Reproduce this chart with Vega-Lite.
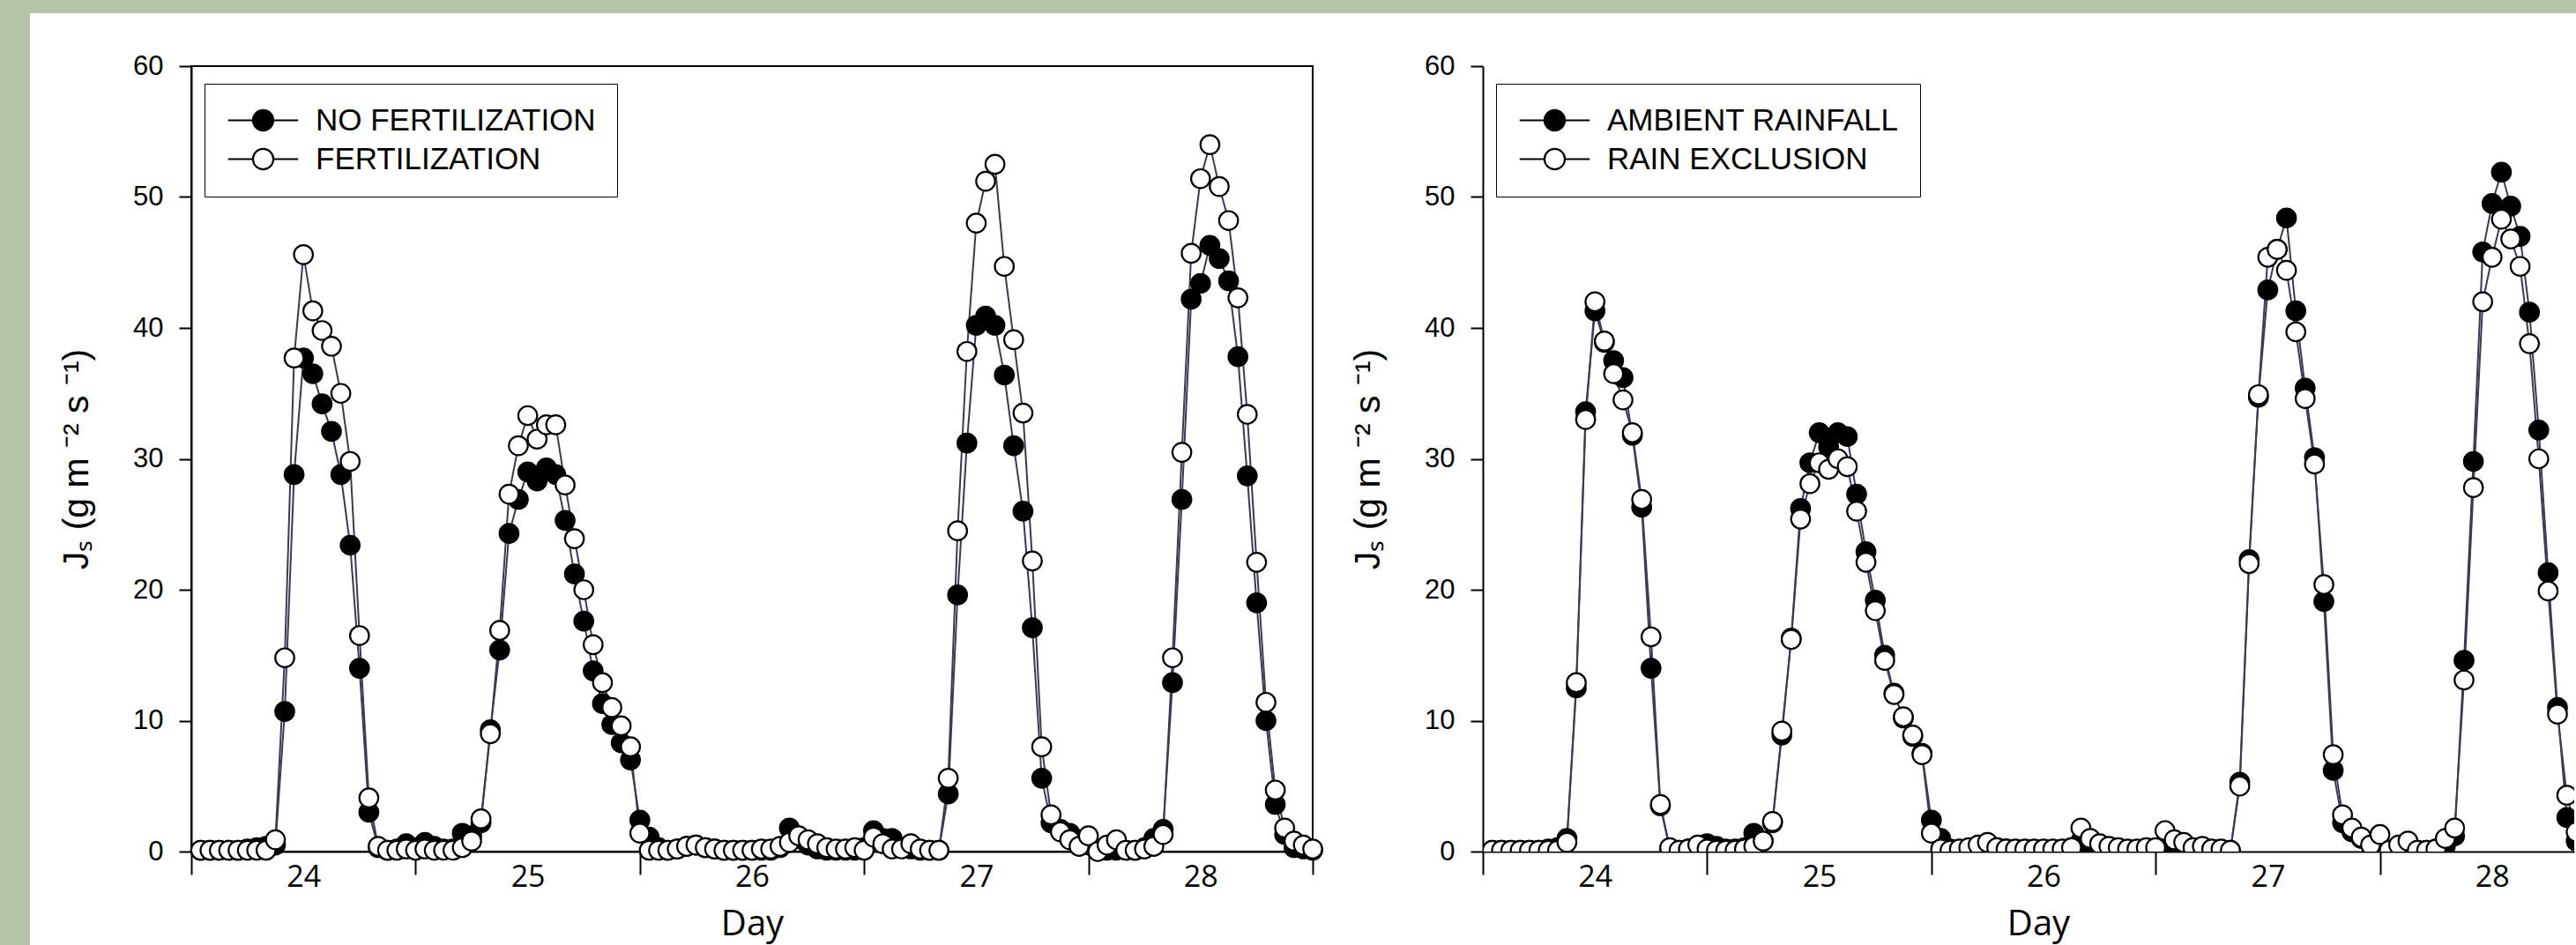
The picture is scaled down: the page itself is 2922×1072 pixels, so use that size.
{
  "$schema": "https://vega.github.io/schema/vega-lite/v6.json",
  "background": "white",
  "padding": 0,
  "bounds": "flush",
  "spacing": 0,
  "config": {
    "view": {"stroke": null},
    "font": "Liberation Sans",
    "axis": {"grid": false, "domainColor": "black", "tickColor": "black", "labelColor": "black", "titleColor": "black"}
  },
  "datasets": {
    "left": [
      {"t":23.5417,"a":0.1,"b":0.1},{"t":23.5833,"a":0.1,"b":0.1},{"t":23.625,"a":0.1,"b":0.1},{"t":23.6667,"a":0.1,"b":0.1},
      {"t":23.7083,"a":0.1,"b":0.1},{"t":23.75,"a":0.2,"b":0.1},{"t":23.7917,"a":0.3,"b":0.1},{"t":23.8333,"a":0.4,"b":0.1},
      {"t":23.875,"a":0.5,"b":0.9},{"t":23.9167,"a":10.7,"b":14.8},{"t":23.9583,"a":28.8,"b":37.7},{"t":24,"a":37.7,"b":45.6},
      {"t":24.0417,"a":36.5,"b":41.3},{"t":24.0833,"a":34.2,"b":39.8},{"t":24.125,"a":32.1,"b":38.6},{"t":24.1667,"a":28.8,"b":35.0},
      {"t":24.2083,"a":23.4,"b":29.8},{"t":24.25,"a":14.0,"b":16.5},{"t":24.2917,"a":3.0,"b":4.1},{"t":24.3333,"a":0.3,"b":0.4},
      {"t":24.375,"a":0.1,"b":0.1},{"t":24.4167,"a":0.2,"b":0.1},{"t":24.4583,"a":0.6,"b":0.2},{"t":24.5,"a":0.3,"b":0.1},
      {"t":24.5417,"a":0.7,"b":0.2},{"t":24.5833,"a":0.4,"b":0.1},{"t":24.625,"a":0.2,"b":0.1},{"t":24.6667,"a":0.2,"b":0.1},
      {"t":24.7083,"a":1.4,"b":0.3},{"t":24.75,"a":1.2,"b":0.8},{"t":24.7917,"a":2.2,"b":2.5},{"t":24.8333,"a":9.3,"b":9.0},
      {"t":24.875,"a":15.4,"b":16.9},{"t":24.9167,"a":24.3,"b":27.3},{"t":24.9583,"a":26.9,"b":31.0},{"t":25,"a":29.0,"b":33.3},
      {"t":25.0417,"a":28.3,"b":31.5},{"t":25.0833,"a":29.3,"b":32.6},{"t":25.125,"a":28.8,"b":32.6},{"t":25.1667,"a":25.3,"b":28.0},
      {"t":25.2083,"a":21.2,"b":23.9},{"t":25.25,"a":17.6,"b":20.0},{"t":25.2917,"a":13.8,"b":15.8},{"t":25.3333,"a":11.3,"b":12.9},
      {"t":25.375,"a":9.7,"b":11.0},{"t":25.4167,"a":8.3,"b":9.6},{"t":25.4583,"a":7.0,"b":8.0},{"t":25.5,"a":2.4,"b":1.4},
      {"t":25.5417,"a":1.1,"b":0.1},{"t":25.5833,"a":0.3,"b":0.1},{"t":25.625,"a":0.1,"b":0.1},{"t":25.6667,"a":0.2,"b":0.2},
      {"t":25.7083,"a":0.4,"b":0.4},{"t":25.75,"a":0.5,"b":0.5},{"t":25.7917,"a":0.3,"b":0.3},{"t":25.8333,"a":0.2,"b":0.2},
      {"t":25.875,"a":0.1,"b":0.1},{"t":25.9167,"a":0.1,"b":0.1},{"t":25.9583,"a":0.1,"b":0.1},{"t":26,"a":0.1,"b":0.1},
      {"t":26.0417,"a":0.1,"b":0.2},{"t":26.0833,"a":0.1,"b":0.2},{"t":26.125,"a":0.3,"b":0.4},{"t":26.1667,"a":1.8,"b":0.7},
      {"t":26.2083,"a":1.0,"b":1.2},{"t":26.25,"a":0.5,"b":0.9},{"t":26.2917,"a":0.2,"b":0.6},{"t":26.3333,"a":0.1,"b":0.3},
      {"t":26.375,"a":0.1,"b":0.2},{"t":26.4167,"a":0.1,"b":0.2},{"t":26.4583,"a":0.1,"b":0.3},{"t":26.5,"a":0.3,"b":0.1},
      {"t":26.5417,"a":1.6,"b":1.1},{"t":26.5833,"a":1.0,"b":0.6},{"t":26.625,"a":1.0,"b":0.2},{"t":26.6667,"a":0.3,"b":0.2},
      {"t":26.7083,"a":0.2,"b":0.6},{"t":26.75,"a":0.1,"b":0.2},{"t":26.7917,"a":0.1,"b":0.1},{"t":26.8333,"a":0.1,"b":0.1},
      {"t":26.875,"a":4.4,"b":5.6},{"t":26.9167,"a":19.6,"b":24.5},{"t":26.9583,"a":31.2,"b":38.2},{"t":27,"a":40.2,"b":48.0},
      {"t":27.0417,"a":40.9,"b":51.2},{"t":27.0833,"a":40.2,"b":52.5},{"t":27.125,"a":36.4,"b":44.7},{"t":27.1667,"a":31.0,"b":39.1},
      {"t":27.2083,"a":26.0,"b":33.5},{"t":27.25,"a":17.1,"b":22.2},{"t":27.2917,"a":5.6,"b":8.0},{"t":27.3333,"a":2.2,"b":2.8},
      {"t":27.375,"a":1.7,"b":1.5},{"t":27.4167,"a":1.4,"b":0.9},{"t":27.4583,"a":0.9,"b":0.4},{"t":27.5,"a":0.5,"b":1.2},
      {"t":27.5417,"a":0.1,"b":0.0},{"t":27.5833,"a":0.1,"b":0.5},{"t":27.625,"a":0.1,"b":0.9},{"t":27.6667,"a":0.1,"b":0.1},
      {"t":27.7083,"a":0.1,"b":0.1},{"t":27.75,"a":0.3,"b":0.2},{"t":27.7917,"a":1.0,"b":0.4},{"t":27.8333,"a":1.7,"b":1.3},
      {"t":27.875,"a":12.9,"b":14.8},{"t":27.9167,"a":26.9,"b":30.5},{"t":27.9583,"a":42.2,"b":45.7},{"t":28,"a":43.4,"b":51.4},
      {"t":28.0417,"a":46.3,"b":54.0},{"t":28.0833,"a":45.3,"b":50.8},{"t":28.125,"a":43.6,"b":48.2},{"t":28.1667,"a":37.8,"b":42.3},
      {"t":28.2083,"a":28.7,"b":33.4},{"t":28.25,"a":19.0,"b":22.1},{"t":28.2917,"a":10.0,"b":11.4},{"t":28.3333,"a":3.6,"b":4.7},
      {"t":28.375,"a":1.3,"b":1.8},{"t":28.4167,"a":0.3,"b":0.8},{"t":28.4583,"a":0.2,"b":0.5},{"t":28.5,"a":0.1,"b":0.2}
    ],
    "right": [
      {"t":23.5417,"a":0.1,"b":0.1},{"t":23.5833,"a":0.1,"b":0.1},{"t":23.625,"a":0.1,"b":0.1},{"t":23.6667,"a":0.1,"b":0.1},
      {"t":23.7083,"a":0.1,"b":0.1},{"t":23.75,"a":0.1,"b":0.1},{"t":23.7917,"a":0.2,"b":0.1},{"t":23.8333,"a":0.3,"b":0.1},
      {"t":23.875,"a":1.0,"b":0.7},{"t":23.9167,"a":12.5,"b":12.9},{"t":23.9583,"a":33.6,"b":33.0},{"t":24,"a":41.3,"b":42.0},
      {"t":24.0417,"a":38.9,"b":39.0},{"t":24.0833,"a":37.5,"b":36.5},{"t":24.125,"a":36.2,"b":34.5},{"t":24.1667,"a":31.8,"b":32.0},
      {"t":24.2083,"a":26.3,"b":26.9},{"t":24.25,"a":14.0,"b":16.4},{"t":24.2917,"a":3.5,"b":3.6},{"t":24.3333,"a":0.2,"b":0.3},
      {"t":24.375,"a":0.1,"b":0.1},{"t":24.4167,"a":0.2,"b":0.2},{"t":24.4583,"a":0.3,"b":0.5},{"t":24.5,"a":0.6,"b":0.2},
      {"t":24.5417,"a":0.4,"b":0.1},{"t":24.5833,"a":0.2,"b":0.1},{"t":24.625,"a":0.2,"b":0.1},{"t":24.6667,"a":0.3,"b":0.2},
      {"t":24.7083,"a":1.4,"b":0.4},{"t":24.75,"a":0.8,"b":0.8},{"t":24.7917,"a":2.2,"b":2.3},{"t":24.8333,"a":8.9,"b":9.2},
      {"t":24.875,"a":16.3,"b":16.2},{"t":24.9167,"a":26.2,"b":25.4},{"t":24.9583,"a":29.7,"b":28.1},{"t":25,"a":32.0,"b":29.7},
      {"t":25.0417,"a":30.9,"b":29.2},{"t":25.0833,"a":32.0,"b":30.0},{"t":25.125,"a":31.7,"b":29.4},{"t":25.1667,"a":27.3,"b":26.0},
      {"t":25.2083,"a":22.9,"b":22.1},{"t":25.25,"a":19.2,"b":18.4},{"t":25.2917,"a":15.0,"b":14.6},{"t":25.3333,"a":12.1,"b":12.0},
      {"t":25.375,"a":10.2,"b":10.3},{"t":25.4167,"a":8.8,"b":8.9},{"t":25.4583,"a":7.5,"b":7.4},{"t":25.5,"a":2.4,"b":1.4},
      {"t":25.5417,"a":1.0,"b":0.2},{"t":25.5833,"a":0.2,"b":0.1},{"t":25.625,"a":0.1,"b":0.2},{"t":25.6667,"a":0.2,"b":0.3},
      {"t":25.7083,"a":0.4,"b":0.5},{"t":25.75,"a":0.6,"b":0.7},{"t":25.7917,"a":0.3,"b":0.3},{"t":25.8333,"a":0.2,"b":0.2},
      {"t":25.875,"a":0.1,"b":0.2},{"t":25.9167,"a":0.1,"b":0.2},{"t":25.9583,"a":0.1,"b":0.2},{"t":26,"a":0.1,"b":0.2},
      {"t":26.0417,"a":0.1,"b":0.2},{"t":26.0833,"a":0.1,"b":0.2},{"t":26.125,"a":0.3,"b":0.3},{"t":26.1667,"a":0.8,"b":1.8},
      {"t":26.2083,"a":0.5,"b":1.0},{"t":26.25,"a":0.3,"b":0.6},{"t":26.2917,"a":0.2,"b":0.4},{"t":26.3333,"a":0.1,"b":0.3},
      {"t":26.375,"a":0.1,"b":0.2},{"t":26.4167,"a":0.1,"b":0.2},{"t":26.4583,"a":0.1,"b":0.3},{"t":26.5,"a":0.2,"b":0.3},
      {"t":26.5417,"a":0.5,"b":1.6},{"t":26.5833,"a":0.2,"b":0.9},{"t":26.625,"a":0.3,"b":0.7},{"t":26.6667,"a":0.2,"b":0.3},
      {"t":26.7083,"a":0.1,"b":0.4},{"t":26.75,"a":0.1,"b":0.2},{"t":26.7917,"a":0.1,"b":0.2},{"t":26.8333,"a":0.1,"b":0.1},
      {"t":26.875,"a":5.3,"b":5.0},{"t":26.9167,"a":22.3,"b":22.0},{"t":26.9583,"a":34.7,"b":34.9},{"t":27,"a":42.9,"b":45.4},
      {"t":27.0417,"a":46.0,"b":46.0},{"t":27.0833,"a":48.4,"b":44.4},{"t":27.125,"a":41.3,"b":39.7},{"t":27.1667,"a":35.4,"b":34.6},
      {"t":27.2083,"a":30.1,"b":29.6},{"t":27.25,"a":19.1,"b":20.4},{"t":27.2917,"a":6.2,"b":7.4},{"t":27.3333,"a":2.2,"b":2.8},
      {"t":27.375,"a":1.5,"b":1.8},{"t":27.4167,"a":1.0,"b":1.1},{"t":27.4583,"a":0.5,"b":0.5},{"t":27.5,"a":0.3,"b":1.3},
      {"t":27.5417,"a":0.1,"b":0.1},{"t":27.5833,"a":0.2,"b":0.5},{"t":27.625,"a":0.1,"b":0.8},{"t":27.6667,"a":0.1,"b":0.1},
      {"t":27.7083,"a":0.1,"b":0.1},{"t":27.75,"a":0.2,"b":0.2},{"t":27.7917,"a":0.4,"b":1.0},{"t":27.8333,"a":1.2,"b":1.8},
      {"t":27.875,"a":14.6,"b":13.1},{"t":27.9167,"a":29.8,"b":27.8},{"t":27.9583,"a":45.8,"b":42.0},{"t":28,"a":49.5,"b":45.4},
      {"t":28.0417,"a":51.9,"b":48.3},{"t":28.0833,"a":49.3,"b":46.8},{"t":28.125,"a":47.0,"b":44.7},{"t":28.1667,"a":41.2,"b":38.8},
      {"t":28.2083,"a":32.2,"b":30.0},{"t":28.25,"a":21.3,"b":19.9},{"t":28.2917,"a":11.0,"b":10.5},{"t":28.3333,"a":2.6,"b":4.3},
      {"t":28.375,"a":0.8,"b":1.5},{"t":28.4167,"a":0.3,"b":0.7},{"t":28.4583,"a":0.2,"b":0.4},{"t":28.5,"a":0.1,"b":0.2}
    ]
  },
  "vconcat": [
    {"width": 2922, "height": 15, "data": {"values": [{}]}, "mark": {"type": "text"}, "encoding": {"text": {"value": ""}}, "view": {"fill": "#b5c4a6", "stroke": null}},
    {"width": 34, "height": 60, "data": {"values": [{}]}, "mark": {"type": "text"}, "encoding": {"text": {"value": ""}}, "view": {"fill": "#b5c4a6", "stroke": null}},
    {
      "spacing": 0,
      "bounds": "flush",
      "resolve": {"scale": {"fill": "independent"}, "legend": {"fill": "independent"}},
      "hconcat": [
        {"width": 34, "height": 997, "data": {"values": [{}]}, "mark": {"type": "text"}, "encoding": {"text": {"value": ""}}, "view": {"fill": "#b5c4a6", "stroke": null}},
        {"width": 183, "height": 891, "data": {"values": [{}]}, "mark": {"type": "text"}, "encoding": {"text": {"value": ""}}, "view": {"fill": null, "stroke": null}},
        {
          "width": 1272, "height": 891,
          "data": {"name": "left"},
          "transform": [{"fold": ["a", "b"], "as": ["key", "v"]}],
          "view": {"stroke": "black", "strokeWidth": 2},
          "encoding": {
            "x": {"field": "t", "type": "quantitative",
              "scale": {"domain": [23.5, 28.5], "nice": false, "zero": false},
              "axis": {"values": [23.5,24,24.5,25,25.5,26,26.5,27,27.5,28,28.5],
                "labelExpr": "datum.value % 1 === 0 ? format(datum.value, 'd') : ''",
                "tickOpacity": {"condition": {"test": "datum.value % 1 === 0", "value": 0}, "value": 1},
                "tickSize": 26, "tickWidth": 2, "domainWidth": 2,
                "labelFont": "Open Sans", "labelFontSize": 34, "labelPadding": -14, "labelFlush": false, "labelOverlap": false,
                "title": "Day", "titleFont": "Open Sans", "titleFontSize": 40, "titleFontWeight": "normal", "titlePadding": 16}},
            "y": {"field": "v", "type": "quantitative",
              "scale": {"domain": [0, 60], "nice": false},
              "axis": {"values": [0,10,20,30,40,50,60], "tickSize": 14, "tickWidth": 2, "domainWidth": 2,
                "labelFontSize": 31, "labelPadding": 18,
                "title": "Jₛ (g m ⁻² s ⁻¹)", "titleFontSize": 41, "titleFontWeight": "normal", "titlePadding": 42}}
          },
          "layer": [
            {"mark": {"type": "line", "strokeWidth": 2, "color": "#3a3a58"},
              "encoding": {"detail": {"field": "key", "type": "nominal"}}},
            {"mark": {"type": "circle", "size": 460, "stroke": "black", "strokeWidth": 2.2, "opacity": 1},
              "encoding": {
                "order": {"field": "key"},
                "fill": {"field": "key", "type": "nominal", "scale": {"domain": ["a", "b"], "range": ["black", "white"]},
                  "legend": {"title": null, "orient": "none", "legendX": 15, "legendY": 20, "direction": "vertical",
                    "labelExpr": "datum.value === 'a' ? 'NO FERTILIZATION' : 'FERTILIZATION'",
                    "labelFont": "Liberation Sans", "labelFontSize": 35, "labelColor": "black", "labelLimit": 600, "labelOffset": 42,
                    "symbolType": "M-3.2,0H-0.93M0.93,0H3.2M0.93,0C0.93,0.514,0.514,0.93,0,0.93C-0.514,0.93,-0.93,0.514,-0.93,0C-0.93,-0.514,-0.514,-0.93,0,-0.93C0.514,-0.93,0.93,-0.514,0.93,0Z",
                    "symbolSize": 617, "symbolStrokeColor": "black", "symbolStrokeWidth": 2.2, "symbolOffset": 25,
                    "padding": 24, "rowPadding": 8, "strokeColor": "black"}}
              }}
          ]
        },
        {"width": 193, "height": 891, "data": {"values": [{}]}, "mark": {"type": "text"}, "encoding": {"text": {"value": ""}}, "view": {"fill": null, "stroke": null}},
        {
          "width": 1238, "height": 891,
          "data": {"name": "right"},
          "transform": [{"fold": ["a", "b"], "as": ["key", "v"]}],
          "view": {"stroke": null},
          "encoding": {
            "x": {"field": "t", "type": "quantitative",
              "scale": {"domain": [23.5, 28.3664], "nice": false, "zero": false},
              "axis": {"values": [23.5,24,24.5,25,25.5,26,26.5,27,27.5,28],
                "labelExpr": "datum.value % 1 === 0 ? format(datum.value, 'd') : ''",
                "tickOpacity": {"condition": {"test": "datum.value % 1 === 0", "value": 0}, "value": 1},
                "tickSize": 26, "tickWidth": 2, "domainWidth": 2,
                "labelFont": "Open Sans", "labelFontSize": 34, "labelPadding": -14, "labelFlush": false, "labelOverlap": false,
                "title": "Day", "titleFont": "Open Sans", "titleFontSize": 40, "titleFontWeight": "normal", "titlePadding": 16, "titleX": 630}},
            "y": {"field": "v", "type": "quantitative",
              "scale": {"domain": [0, 60], "nice": false},
              "axis": {"values": [0,10,20,30,40,50,60], "tickSize": 14, "tickWidth": 2, "domainWidth": 2,
                "labelFontSize": 31, "labelPadding": 18,
                "title": "Jₛ (g m ⁻² s ⁻¹)", "titleFontSize": 41, "titleFontWeight": "normal", "titlePadding": 42}}
          },
          "layer": [
            {"data": {"values": [{}]}, "mark": {"type": "rule", "color": "black", "strokeWidth": 2},
              "encoding": {"x": {"datum": 23.5}, "x2": {"datum": 28.3664}, "y": {"datum": 60}}},
            {"mark": {"type": "line", "strokeWidth": 2, "color": "#3a3a58", "clip": true},
              "encoding": {"detail": {"field": "key", "type": "nominal"}}},
            {"mark": {"type": "circle", "size": 460, "stroke": "black", "strokeWidth": 2.2, "opacity": 1, "clip": true},
              "encoding": {
                "order": {"field": "key"},
                "fill": {"field": "key", "type": "nominal", "scale": {"domain": ["a", "b"], "range": ["black", "white"]},
                  "legend": {"title": null, "orient": "none", "legendX": 15, "legendY": 20, "direction": "vertical",
                    "labelExpr": "datum.value === 'a' ? 'AMBIENT RAINFALL' : 'RAIN EXCLUSION'",
                    "labelFont": "Liberation Sans", "labelFontSize": 35, "labelColor": "black", "labelLimit": 600, "labelOffset": 42,
                    "symbolType": "M-3.2,0H-0.93M0.93,0H3.2M0.93,0C0.93,0.514,0.514,0.93,0,0.93C-0.514,0.93,-0.93,0.514,-0.93,0C-0.93,-0.514,-0.514,-0.93,0,-0.93C0.514,-0.93,0.93,-0.514,0.93,0Z",
                    "symbolSize": 617, "symbolStrokeColor": "black", "symbolStrokeWidth": 2.2, "symbolOffset": 25,
                    "padding": 24, "rowPadding": 8, "strokeColor": "black"}}
              }}
          ]
        }
      ]
    }
  ]
}
